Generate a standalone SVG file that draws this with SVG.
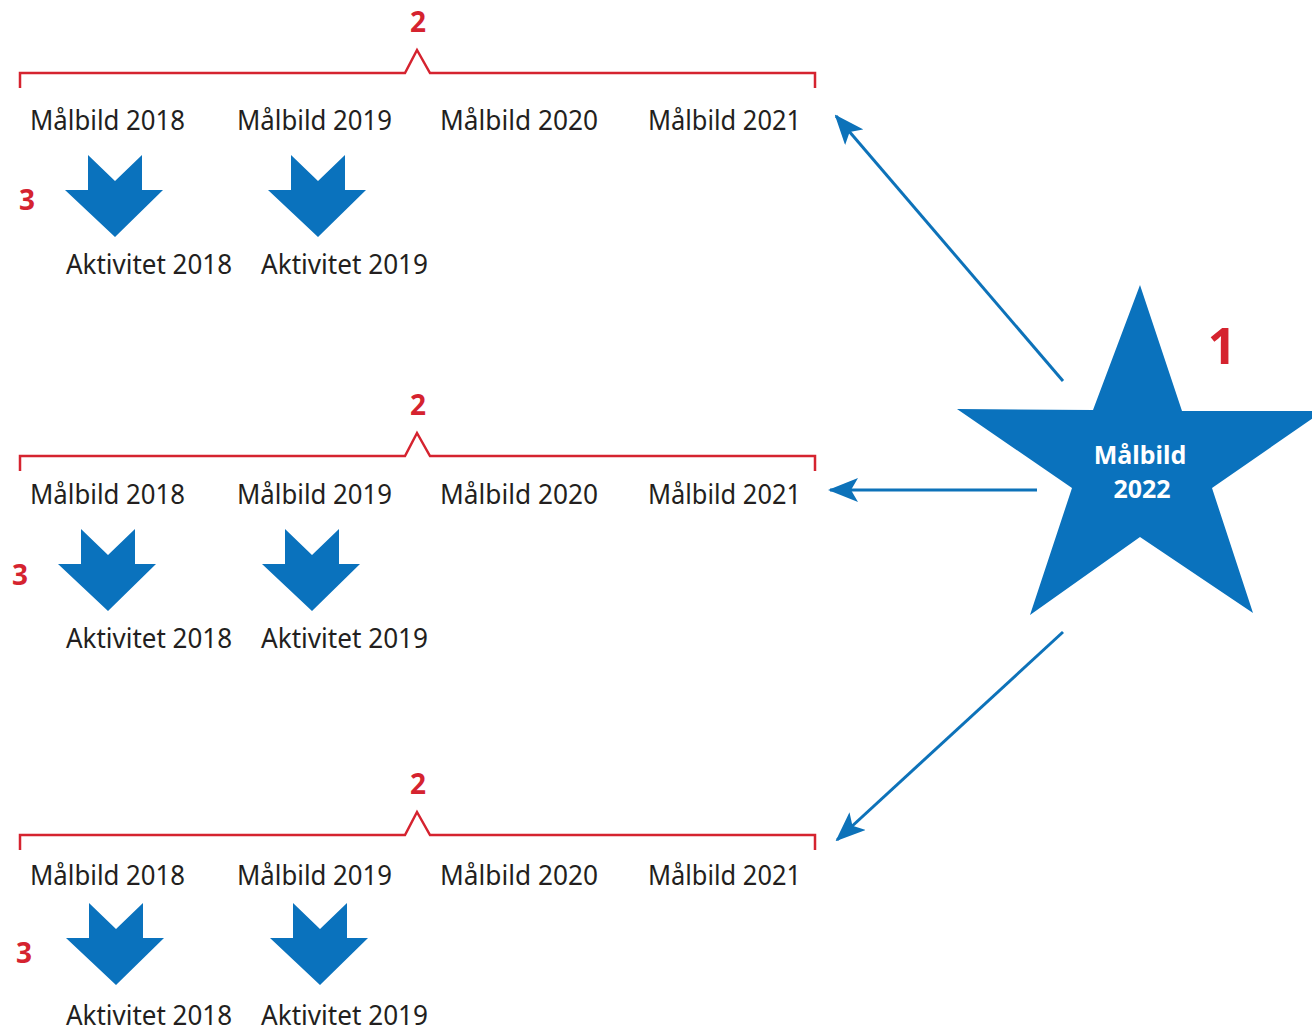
<svg xmlns="http://www.w3.org/2000/svg" xmlns:xlink="http://www.w3.org/1999/xlink" width="1312" height="1032" viewBox="0 0 1312 1032">
<style>
.lbl{font-family:"Noto Sans","Open Sans",sans-serif;font-size:27px;fill:#231f20}
.num{font-family:"Noto Sans","Open Sans",sans-serif;font-weight:bold;fill:#d5232f;text-anchor:middle}
.br{fill:none;stroke:#d5232f;stroke-width:2.5}
.con{fill:none;stroke:#0d72b9;stroke-width:3}
.blk{fill:#0a72bd}
.star{font-family:"Noto Sans","Open Sans",sans-serif;font-weight:bold;font-size:25px;fill:#ffffff;text-anchor:middle}
</style>
<defs>
<path id="dn" d="M23,0 L50,26 L77,0 L77,35 L98,35 L50,82 L0,35 L23,35 Z"/>
<marker id="ah" markerUnits="userSpaceOnUse" markerWidth="30" markerHeight="24" viewBox="0 0 30 24" refX="28" refY="12" orient="auto">
<path d="M0,0 L30,12 L0,24 L7,12 Z" fill="#0d72b9"/>
</marker>
</defs>
<rect width="1312" height="1032" fill="#ffffff"/>

<g id="row1">
<path class="br" d="M20,88 V73 H405 L417,50 L430,73 H815 V88"/>
<text class="num" x="418" y="32" font-size="28">2</text>
<text class="lbl" x="30" y="130" textLength="155" lengthAdjust="spacingAndGlyphs">Målbild 2018</text>
<text class="lbl" x="237" y="130" textLength="155" lengthAdjust="spacingAndGlyphs">Målbild 2019</text>
<text class="lbl" x="440" y="130" textLength="158" lengthAdjust="spacingAndGlyphs">Målbild 2020</text>
<text class="lbl" x="648" y="130" textLength="153" lengthAdjust="spacingAndGlyphs">Målbild 2021</text>
<text class="num" x="27" y="210" font-size="28">3</text>
<use xlink:href="#dn" class="blk" x="65" y="155"/>
<use xlink:href="#dn" class="blk" x="268" y="155"/>
<text class="lbl" x="66" y="274" textLength="166" lengthAdjust="spacingAndGlyphs">Aktivitet 2018</text>
<text class="lbl" x="261" y="274" textLength="167" lengthAdjust="spacingAndGlyphs">Aktivitet 2019</text>
</g>

<g id="row2">
<path class="br" d="M20,471 V456 H405 L417,433 L430,456 H815 V471"/>
<text class="num" x="418" y="415" font-size="28">2</text>
<text class="lbl" x="30" y="504" textLength="155" lengthAdjust="spacingAndGlyphs">Målbild 2018</text>
<text class="lbl" x="237" y="504" textLength="155" lengthAdjust="spacingAndGlyphs">Målbild 2019</text>
<text class="lbl" x="440" y="504" textLength="158" lengthAdjust="spacingAndGlyphs">Målbild 2020</text>
<text class="lbl" x="648" y="504" textLength="153" lengthAdjust="spacingAndGlyphs">Målbild 2021</text>
<text class="num" x="20" y="585" font-size="28">3</text>
<use xlink:href="#dn" class="blk" x="58" y="529"/>
<use xlink:href="#dn" class="blk" x="262" y="529"/>
<text class="lbl" x="66" y="648" textLength="166" lengthAdjust="spacingAndGlyphs">Aktivitet 2018</text>
<text class="lbl" x="261" y="648" textLength="167" lengthAdjust="spacingAndGlyphs">Aktivitet 2019</text>
</g>

<g id="row3">
<path class="br" d="M20,850 V835 H405 L417,812 L430,835 H815 V850"/>
<text class="num" x="418" y="794" font-size="28">2</text>
<text class="lbl" x="30" y="885" textLength="155" lengthAdjust="spacingAndGlyphs">Målbild 2018</text>
<text class="lbl" x="237" y="885" textLength="155" lengthAdjust="spacingAndGlyphs">Målbild 2019</text>
<text class="lbl" x="440" y="885" textLength="158" lengthAdjust="spacingAndGlyphs">Målbild 2020</text>
<text class="lbl" x="648" y="885" textLength="153" lengthAdjust="spacingAndGlyphs">Målbild 2021</text>
<text class="num" x="24" y="963" font-size="28">3</text>
<use xlink:href="#dn" class="blk" x="66" y="903"/>
<use xlink:href="#dn" class="blk" x="270" y="903"/>
<text class="lbl" x="66" y="1025" textLength="166" lengthAdjust="spacingAndGlyphs">Aktivitet 2018</text>
<text class="lbl" x="261" y="1025" textLength="167" lengthAdjust="spacingAndGlyphs">Aktivitet 2019</text>
</g>

<g id="star">
<polygon class="blk" points="1140,285 1182,411 1323,411 1212,488 1253,613 1140,537 1030,615 1072,488 957,409 1093,410"/>
<text class="star" x="1140" y="464">Målbild</text>
<text class="star" x="1142" y="498">2022</text>
<text class="num" x="1222" y="364" font-size="50">1</text>
</g>

<g id="connectors">
<line class="con" x1="1063" y1="381" x2="836" y2="116" marker-end="url(#ah)"/>
<line class="con" x1="1037" y1="490" x2="830" y2="490" marker-end="url(#ah)"/>
<line class="con" x1="1063" y1="632" x2="837" y2="840" marker-end="url(#ah)"/>
</g>
</svg>
